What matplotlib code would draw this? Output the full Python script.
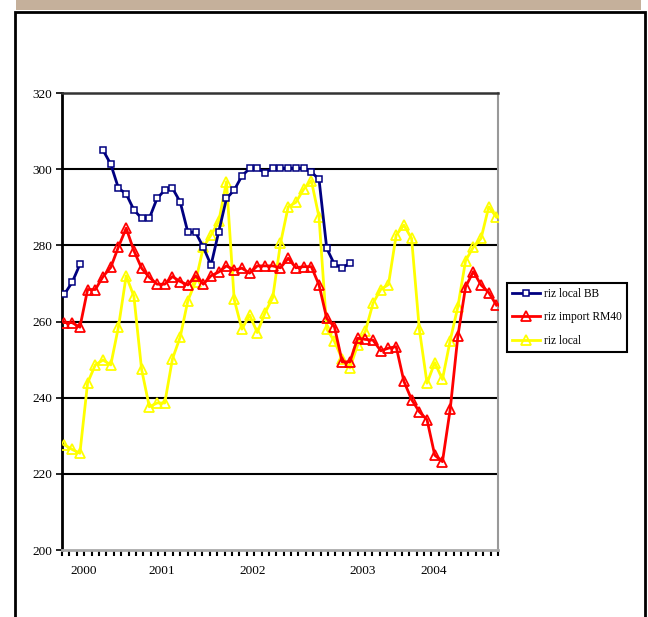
import numpy as np
import matplotlib
matplotlib.use("Agg")
import matplotlib.pyplot as plt
from matplotlib.patches import Rectangle

nan = np.nan
riz_local_bb = [267.2, 270.3, 275.0, nan, nan, 305.0, 301.3, 295.0, 293.5, 289.3,
                287.1, 287.1, 292.3, 294.5, 295.0, 291.4, 283.4, 283.4, 279.5, 274.8,
                283.6, 292.3, 294.5, 298.2, 300.2, 300.2, 299.1, 300.2, 300.2, 300.2,
                300.2, 300.2, 299.3, 297.3, 279.2, 275.0, 274.1, 275.3] + [nan] * 19
riz_import_rm40 = [259.7, 259.7, 258.5, 268.4, 268.4, 271.8, 274.2, 279.6, 284.5, 278.6,
                   274.0, 271.6, 269.8, 269.8, 271.8, 270.5, 269.6, 272.0, 269.8, 272.0,
                   273.0, 274.6, 273.5, 274.0, 272.7, 274.6, 274.6, 274.6, 274.1, 276.6,
                   274.1, 274.4, 274.4, 269.6, 260.8, 258.6, 249.4, 249.4, 255.6, 255.3,
                   255.1, 252.3, 253.0, 253.4, 244.3, 239.5, 236.3, 234.2, 224.9, 223.2,
                   236.9, 256.2, 269.1, 273.1, 269.6, 267.6, 264.3]
riz_local = [227.6, 226.4, 225.4, 243.9, 248.6, 249.9, 248.6, 258.6, 272.0, 266.6,
             247.4, 237.6, 238.6, 238.6, 250.2, 255.9, 265.5, 270.5, 279.5, 282.7,
             286.3, 296.7, 265.8, 258.0, 261.7, 257.1, 262.3, 266.3, 280.5, 290.1,
             291.3, 294.7, 297.0, 287.4, 258.0, 254.8, 250.1, 247.8, 253.8, 257.4,
             264.8, 268.4, 269.7, 282.7, 285.3, 281.8, 258.0, 243.8, 249.2, 244.8,
             255.0, 263.9, 276.0, 279.5, 281.8, 290.1, 287.4]
year_labels = ["2000", "2001", "2002", "2003", "2004"]
year_pos = [2.53, 12.65, 24.45, 38.6, 47.8]
y_ticks = [200, 220, 240, 260, 280, 300, 320]

W, H = 648, 617
fig = plt.figure(figsize=(W / 100, H / 100), dpi=100)
fig.patch.set_facecolor("white")

# decorative frame
fig.patches.append(Rectangle((16 / W, 1 - 10 / H), 625 / W, 10 / H,
                             transform=fig.transFigure, facecolor="#C5B09B",
                             edgecolor="none", zorder=0))
fig.patches.append(Rectangle((14.5 / W, -0.05), 630.5 / W, 1.05 - 11.5 / H,
                             transform=fig.transFigure, facecolor="none",
                             edgecolor="black", linewidth=2, zorder=0))

ax = fig.add_axes([62 / W, 1 - 550 / H, 436 / W, 457 / H])
x = np.arange(len(riz_import_rm40))

serif = ["Liberation Serif", "DejaVu Serif"]

ax.plot(x, riz_local_bb, color="#000080", lw=2, marker="s", ms=3.8,
        mfc="white", mec="#000080", mew=1.1, label="riz local BB", zorder=5)
ax.plot(x, riz_import_rm40, color="#FF0000", lw=2, marker="^", ms=6.5,
        mfc="none", mec="#FF0000", mew=1.3, label="riz import RM40", zorder=4)
ax.plot(x, riz_local, color="#FFFF00", lw=2, marker="^", ms=7,
        mfc="none", mec="#FFFF00", mew=1.3, label="riz local", zorder=3)

ax.set_ylim(200, 320)
ax.set_xlim(-0.32, 56.2)
ax.set_yticks(y_ticks)
ax.set_yticklabels([str(v) for v in y_ticks], fontfamily=serif, fontsize=9.5)
for v in y_ticks[1:-1]:
    ax.axhline(v, color="black", lw=1.5, zorder=1)

ax.set_xticks(year_pos)
ax.set_xticklabels(year_labels, fontfamily=serif, fontsize=9.5)
ax.tick_params(axis="x", which="major", length=0, pad=11)
ax.set_xticks(np.linspace(-0.32, 56.2, 60), minor=True)
ax.tick_params(axis="x", which="minor", length=4, width=1.5, direction="out", color="black")
ax.tick_params(axis="y", length=4, width=1.2, direction="out", pad=3)

ax.spines["left"].set_linewidth(2)
ax.spines["left"].set_color("black")
ax.spines["top"].set_linewidth(1.8)
ax.spines["top"].set_color("#333333")
ax.spines["right"].set_linewidth(1.5)
ax.spines["right"].set_color("#999999")
ax.spines["bottom"].set_linewidth(2)
ax.spines["bottom"].set_color("#aaaaaa")

leg = fig.legend(loc="upper left", bbox_to_anchor=(506.7 / W, 1 - 282.7 / H),
                 borderaxespad=0, frameon=True, fancybox=False, framealpha=1,
                 edgecolor="black", prop={"family": serif, "size": 8.3},
                 handlelength=2.4, labelspacing=1.0, borderpad=0.45,
                 handletextpad=0.4)
leg.get_frame().set_linewidth(1.5)

fig.savefig("out.png", dpi=100)
